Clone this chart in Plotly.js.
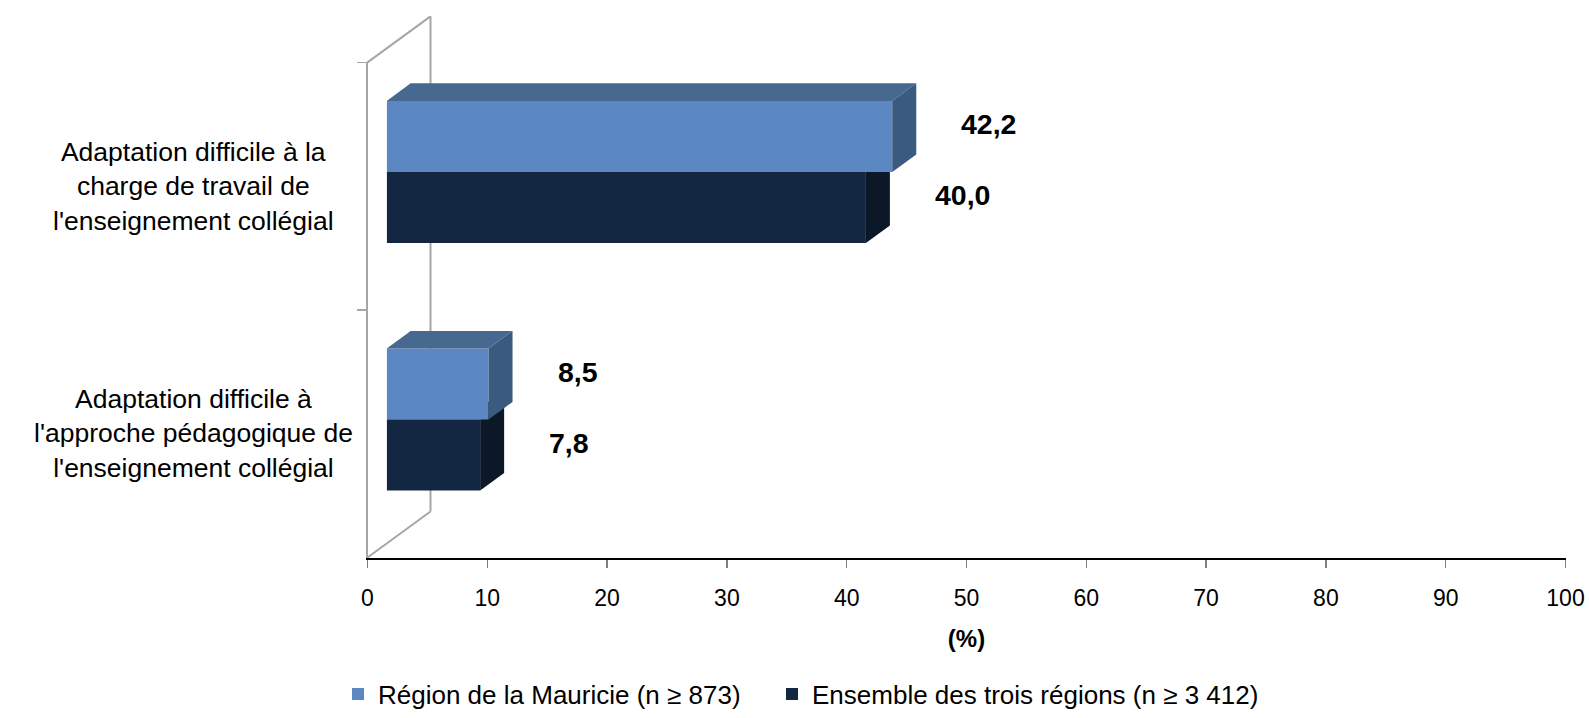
<!DOCTYPE html>
<html>
<head>
<meta charset="utf-8">
<script src="https://cdn.plot.ly/plotly-3.0.1.min.js"></script>
<style>html,body{margin:0;padding:0;background:#fff;}#chart{width:1589px;height:718px;}</style>
</head>
<body>
<div id="chart"></div>
<script>
// ---------- data ----------
const categories = [
  "Adaptation difficile à la charge de travail de l'enseignement collégial",
  "Adaptation difficile à l'approche pédagogique de l'enseignement collégial"
];
const categoryLabels = [
  "Adaptation difficile à la<br>charge de travail de<br>l'enseignement collégial",
  "Adaptation difficile à<br>l'approche pédagogique de<br>l'enseignement collégial"
];
const seriesNames = ["Région de la Mauricie (n ≥ 873)", "Ensemble des trois régions (n ≥ 3 412)"];
const mauricie = [42.2, 8.5];
const ensemble = [40.0, 7.8];
const xTickValues = [0, 10, 20, 30, 40, 50, 60, 70, 80, 90, 100];
const xAxisTitle = "(%)";

// ---------- layout geometry (pixels) ----------
const W = 1589, H = 718;
const AX_LEFT = 367.5, AX_RIGHT = 1565.5, AX_TOP = 63, AX_BOTTOM = 563;
const BAR_SHIFT_X = 19.2, BAR_SHIFT_Y = 14.3;   // front faces of bars sit slightly back in depth
const DEPTH_X = 24, DEPTH_Y = 17.8;             // bar depth projection
const WALL_X = 63, WALL_Y = 46.5;               // wall depth projection
const BAR_W = 0.287;                            // bar thickness (category units)
const LABEL_DX = 5.6;                           // value-label gap (x units)
const LABEL_DY = 0.05;                          // value-label lift (category units)

const colors = {
  blueFront: '#5B88C2', blueTop: '#47688F', blueSide: '#3A5A80',
  darkFront: '#132742', darkTop: '#0F1F35', darkSide: '#0C1828',
  wall: '#A6A6A6'
};
const FONT = 'Liberation Sans, Arial, sans-serif';

const pxPerX = (AX_RIGHT - AX_LEFT) / 100;
const pxPerY = (AX_BOTTOM - AX_TOP) / categories.length;
const DX = DEPTH_X / pxPerX;
const DY = -DEPTH_Y / pxPerY;   // reversed axis: up = smaller value
const fx = px => px / W;
const fy = py => 1 - py / H;
const pos = categories.map((c, i) => i);
const fmt = v => v.toFixed(1).replace('.', ',');

function faces(values, lo, hi, which) {
  const xs = [], ys = [];
  values.forEach((v, i) => {
    const a = pos[i] + lo, b = pos[i] + hi;
    if (which === 'top') {
      xs.push(0, v, v + DX, DX, 0, null);
      ys.push(a, a, a + DY, a + DY, a, null);
    } else {
      xs.push(v, v + DX, v + DX, v, v, null);
      ys.push(a, a + DY, b + DY, b, a, null);
    }
  });
  return {x: xs, y: ys};
}
function faceTrace(values, lo, hi, which, color, xa, ya) {
  const f = faces(values, lo, hi, which);
  return {type: 'scatter', mode: 'lines', x: f.x, y: f.y, fill: 'toself', fillcolor: color,
          line: {width: 0, color: color}, hoverinfo: 'skip', showlegend: false, xaxis: xa, yaxis: ya};
}

const traces = [
  // anchor trace for the visible category axis
  {type: 'scatter', mode: 'markers', x: categories.map(() => 0), y: categories,
   marker: {opacity: 0}, hoverinfo: 'skip', showlegend: false, xaxis: 'x', yaxis: 'y'},
  // dark series (drawn first: lower bar)
  {type: 'bar', orientation: 'h', name: seriesNames[1], x: ensemble, y: pos, offset: 0, width: BAR_W,
   marker: {color: colors.darkFront, line: {width: 0}}, xaxis: 'x2', yaxis: 'y2', legend: 'legend2', hoverinfo: 'skip'},
  faceTrace(ensemble, 0, BAR_W, 'top', colors.darkTop, 'x2', 'y2'),
  faceTrace(ensemble, 0, BAR_W, 'side', colors.darkSide, 'x2', 'y2'),
  // blue series (upper bar)
  {type: 'bar', orientation: 'h', name: seriesNames[0], x: mauricie, y: pos, offset: -BAR_W, width: BAR_W,
   marker: {color: colors.blueFront, line: {width: 0}}, xaxis: 'x3', yaxis: 'y3', legend: 'legend', hoverinfo: 'skip'},
  faceTrace(mauricie, -BAR_W, 0, 'top', colors.blueTop, 'x3', 'y3'),
  faceTrace(mauricie, -BAR_W, 0, 'side', colors.blueSide, 'x3', 'y3')
];

const annotations = [];
categoryLabels.forEach((t, i) => {
  annotations.push({xref: 'paper', yref: 'y', x: fx(193), y: categories[i], text: t, showarrow: false,
    xanchor: 'center', yanchor: 'middle', align: 'center', font: {family: FONT, size: 26.5, color: '#000'}});
});
const labelFont = {family: FONT, size: 28.5, color: '#000', weight: 'bold'};
mauricie.forEach((v, i) => {
  annotations.push({xref: 'x3', yref: 'y3', x: v + LABEL_DX, y: pos[i] - BAR_W / 2 - LABEL_DY,
    text: fmt(v), showarrow: false, xanchor: 'left', yanchor: 'middle', font: labelFont});
});
ensemble.forEach((v, i) => {
  annotations.push({xref: 'x2', yref: 'y2', x: v + LABEL_DX, y: pos[i] + BAR_W / 2 - LABEL_DY,
    text: fmt(v), showarrow: false, xanchor: 'left', yanchor: 'middle', font: labelFont});
});

const wallLine = (x0, y0, x1, y1) => ({type: 'line', xref: 'paper', yref: 'paper', layer: 'below',
  x0: fx(x0), y0: fy(y0), x1: fx(x1), y1: fy(y1), line: {color: colors.wall, width: 2}});
const shapes = [
  wallLine(AX_LEFT + WALL_X, AX_TOP - WALL_Y, AX_LEFT + WALL_X, AX_BOTTOM - WALL_Y),
  wallLine(AX_LEFT, AX_TOP, AX_LEFT + WALL_X, AX_TOP - WALL_Y),
  wallLine(AX_LEFT, AX_BOTTOM, AX_LEFT + WALL_X, AX_BOTTOM - WALL_Y)
];

const hidden = (dom, anchor) => ({domain: dom, anchor: anchor, visible: false, showgrid: false, zeroline: false});
const xdom2 = [fx(AX_LEFT + BAR_SHIFT_X), fx(AX_RIGHT + BAR_SHIFT_X)];
const ydom2 = [fy(AX_BOTTOM - BAR_SHIFT_Y), fy(AX_TOP - BAR_SHIFT_Y)];
const yRange = [categories.length - 0.5, -0.5];
const legendBase = {orientation: 'h', xanchor: 'left', y: fy(701), yanchor: 'middle',
  font: {family: FONT, size: 26, color: '#000'}, bgcolor: 'rgba(0,0,0,0)'};

const layout = {
  width: W, height: H,
  margin: {l: 0, r: 0, t: 0, b: 0, pad: 0},
  paper_bgcolor: '#ffffff', plot_bgcolor: 'rgba(0,0,0,0)',
  showlegend: true, hovermode: false, barmode: 'overlay',
  font: {family: FONT, color: '#000'},
  xaxis: {domain: [fx(AX_LEFT), fx(AX_RIGHT)], anchor: 'y', range: [0, 100], tickvals: xTickValues,
    showgrid: false, zeroline: false, showline: true, linecolor: '#000', linewidth: 2.5,
    ticks: 'outside', ticklen: 8, tickwidth: 1.5, tickcolor: '#7F7F7F', ticklabelstandoff: 10,
    tickfont: {family: FONT, size: 23, color: '#000'},
    title: {text: xAxisTitle, font: {family: FONT, size: 24, color: '#000', weight: 'bold'}, standoff: 21}},
  yaxis: {domain: [fy(AX_BOTTOM), fy(AX_TOP)], anchor: 'x', type: 'category', categoryorder: 'array',
    categoryarray: categories, range: yRange, showgrid: false, zeroline: false, showline: true,
    linecolor: colors.wall, linewidth: 2, ticks: 'outside', tickson: 'boundaries', ticklen: 9,
    tickwidth: 1.5, tickcolor: colors.wall, showticklabels: false},
  xaxis2: Object.assign(hidden(xdom2, 'y2'), {range: [0, 100]}),
  yaxis2: Object.assign(hidden(ydom2, 'x2'), {range: yRange}),
  xaxis3: Object.assign(hidden(xdom2, 'y3'), {range: [0, 100]}),
  yaxis3: Object.assign(hidden(ydom2, 'x3'), {range: yRange}),
  legend: Object.assign({}, legendBase, {x: fx(338)}),
  legend2: Object.assign({}, legendBase, {x: fx(772)}),
  annotations: annotations,
  shapes: shapes
};

Plotly.newPlot('chart', traces, layout, {displayModeBar: false, staticPlot: true});
</script>
</body>
</html>
